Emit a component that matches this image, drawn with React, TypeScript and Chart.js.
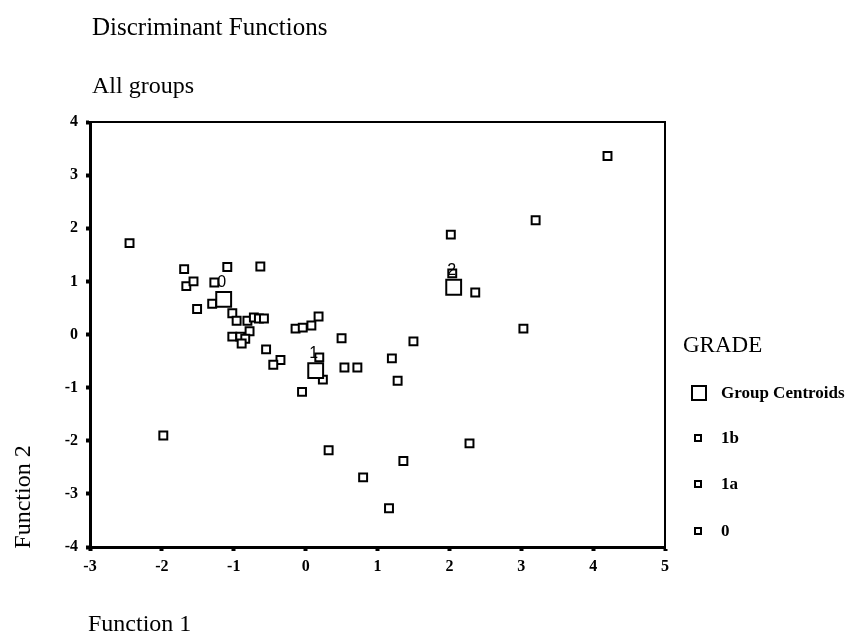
import React, { useEffect, useRef } from "react";
import { Chart, registerables } from "chart.js";

Chart.register(...registerables);

// Axis tick values
const xTickValues = [-3, -2, -1, 0, 1, 2, 3, 4, 5];
const yTickValues = [-4, -3, -2, -1, 0, 1, 2, 3, 4];

// GRADE 0 cases
const grade0X = [-2.45, -1.69, -1.66, -1.56, -1.51, -1.30, -1.27, -1.09, -1.02, -0.96, -0.81, -0.72, -0.65, -0.58, -0.63, -0.78, -1.02, -0.91, -0.84, -0.89, -1.98];
const grade0Y = [1.72, 1.23, 0.91, 1.00, 0.48, 0.58, 0.98, 1.27, 0.40, 0.26, 0.26, 0.32, 0.30, 0.30, 1.28, 0.06, -0.04, -0.04, -0.08, -0.17, -1.90];

// GRADE 1a cases
const grade1aX = [-0.55, -0.35, -0.45, -0.14, -0.04, 0.08, 0.18, 0.50, 0.19, 0.24, 0.54, 0.72, -0.05, 1.20, 1.28, 1.50, 0.32, 0.80, 1.16, 1.36];
const grade1aY = [-0.28, -0.48, -0.57, 0.11, 0.13, 0.17, 0.34, -0.07, -0.43, -0.85, -0.62, -0.62, -1.08, -0.45, -0.87, -0.13, -2.18, -2.69, -3.27, -2.38];

// GRADE 1b cases
const grade1bX = [4.20, 3.20, 2.02, 2.04, 2.36, 3.03, 2.28];
const grade1bY = [3.36, 2.15, 1.88, 1.15, 0.79, 0.11, -2.05];

// Group centroids
const centroidLabels = ["0", "1", "2"];
const centroidX = [-1.14, 0.14, 2.06];
const centroidY = [0.66, -0.68, 0.89];

const legendItems = ["Group Centroids", "1b", "1a", "0"];

const toPoints = (xs: number[], ys: number[]) => xs.map((x, i) => ({ x, y: ys[i] }));

const serif = '"Liberation Serif", "Times New Roman", serif';

const framePlugin = {
  id: "frameAndCentroidLabels",
  afterDraw(chart: any) {
    const { ctx, chartArea: a, scales } = chart;
    ctx.save();
    ctx.strokeStyle = "#000";
    ctx.lineWidth = 2;
    ctx.beginPath();
    ctx.moveTo(a.left, a.top);
    ctx.lineTo(a.right, a.top);
    ctx.lineTo(a.right, a.bottom);
    ctx.stroke();
    ctx.fillStyle = "#000";
    ctx.font = '16px "Liberation Sans", Arial, sans-serif';
    ctx.textAlign = "center";
    ctx.textBaseline = "bottom";
    centroidLabels.forEach((lab, i) => {
      const px = scales.x.getPixelForValue(centroidX[i]);
      const py = scales.y.getPixelForValue(centroidY[i]);
      ctx.fillText(lab, px - 2, py - 9);
    });
    ctx.restore();
  },
};

export default function App() {
  const canvasRef = useRef<HTMLCanvasElement | null>(null);

  useEffect(() => {
    if (!canvasRef.current) return;
    const small = {
      pointStyle: "rect" as const,
      pointRadius: 5.6,
      pointBorderWidth: 2,
      pointBorderColor: "#000",
      pointBackgroundColor: "#fff",
      showLine: false,
    };
    const chart = new Chart(canvasRef.current, {
      type: "scatter",
      data: {
        datasets: [
          {
            label: "Group Centroids",
            data: toPoints(centroidX, centroidY),
            pointStyle: "rect",
            pointRadius: 10.5,
            pointBorderWidth: 2,
            pointBorderColor: "#000",
            pointBackgroundColor: "#fff",
            showLine: false,
          },
          { label: "1b", data: toPoints(grade1bX, grade1bY), ...small },
          { label: "1a", data: toPoints(grade1aX, grade1aY), ...small },
          { label: "0", data: toPoints(grade0X, grade0Y), ...small },
        ],
      },
      options: {
        animation: false,
        responsive: false,
        devicePixelRatio: 1,
        layout: { padding: { left: 0, top: 122, right: 183, bottom: 49 } },
        plugins: { legend: { display: false }, tooltip: { enabled: false } },
        scales: {
          x: {
            type: "linear",
            min: -3,
            max: 5,
            afterBuildTicks: (scale: any) => {
              scale.ticks = xTickValues.map((v) => ({ value: v }));
            },
            afterFit: (scale: any) => {
              scale.height = 40;
            },
            grid: {
              display: true,
              drawOnChartArea: false,
              drawTicks: true,
              tickLength: 4,
              tickWidth: 4,
              color: "#000",
            },
            border: { display: true, color: "#000", width: 3 },
            ticks: {
              color: "#000",
              padding: 6,
              font: { family: serif, size: 16, weight: "bold" },
              callback: (v: any) => String(v),
            },
          },
          y: {
            type: "linear",
            min: -4,
            max: 4,
            afterBuildTicks: (scale: any) => {
              scale.ticks = yTickValues.map((v) => ({ value: v }));
            },
            afterFit: (scale: any) => {
              scale.width = 90;
            },
            grid: {
              display: true,
              drawOnChartArea: false,
              drawTicks: true,
              tickLength: 4,
              tickWidth: 4,
              color: "#000",
            },
            border: { display: true, color: "#000", width: 3 },
            ticks: {
              color: "#000",
              padding: 8,
              font: { family: serif, size: 16, weight: "bold" },
              callback: (v: any) => String(v),
            },
          },
        },
      },
      plugins: [framePlugin],
    });
    return () => chart.destroy();
  }, []);

  const text = (size: number, bold = false): React.CSSProperties => ({
    position: "absolute",
    fontFamily: serif,
    fontSize: size,
    fontWeight: bold ? "bold" : "normal",
    lineHeight: 1,
    color: "#000",
    whiteSpace: "nowrap",
  });

  const rowsY = [393, 438, 484, 531];

  return (
    <div style={{ position: "absolute", left: 0, top: 0, width: 848, height: 636, background: "#fff" }}>
      <canvas ref={canvasRef} width={848} height={636} style={{ position: "absolute", left: 0, top: 0, width: 848, height: 636 }} />
      <div style={{ ...text(25), left: 92, top: 14 }}>Discriminant Functions</div>
      <div style={{ ...text(24), left: 92, top: 73 }}>All groups</div>
      <div style={{ ...text(24), left: 88, top: 611 }}>Function 1</div>
      <div
        style={{
          ...text(24),
          left: 22 - 70,
          top: 497 - 12,
          width: 140,
          textAlign: "center",
          transform: "rotate(-90deg)",
          transformOrigin: "50% 50%",
        }}
      >
        Function 2
      </div>
      <div style={{ ...text(23), left: 683, top: 333 }}>GRADE</div>
      {legendItems.map((lab, i) => {
        const big = i === 0;
        const sz = big ? 16 : 8;
        return (
          <div key={lab} style={{ position: "absolute", left: 0, top: rowsY[i] - 10, height: 20, width: 848 }}>
            <div
              style={{
                position: "absolute",
                left: (big ? 699 : 698) - sz / 2,
                top: 10 - sz / 2,
                width: sz,
                height: sz,
                boxSizing: "border-box",
                border: "2px solid #000",
                background: "#fff",
              }}
            />
            <div style={{ ...text(17, true), left: 721, top: 10 - 9 }}>{lab}</div>
          </div>
        );
      })}
    </div>
  );
}
